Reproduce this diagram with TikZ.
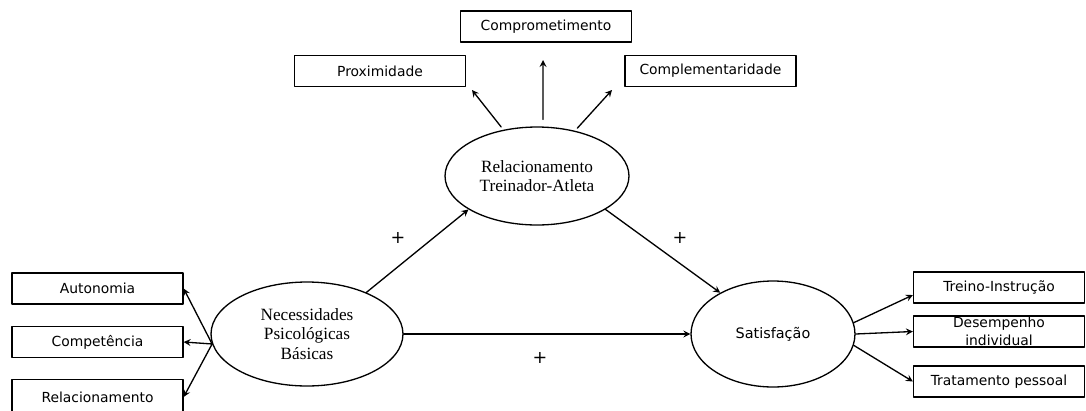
\documentclass[tikz,border=0pt]{standalone}
\usepackage{fontspec}
\setmainfont{Liberation Serif}
\setsansfont{DejaVu Sans}
\usetikzlibrary{shapes.geometric}
\begin{document}
\begin{tikzpicture}[x=0.02cm,y=-0.02cm,line join=round,line cap=round,>=stealth,line width=0.75pt]
	%%%%%%%%%STYLES
	\tikzset{hop/.style={draw,rectangle,minimum width=3.42cm,minimum height=0.62cm,inner sep=0pt,align=center,font=\sffamily\fontsize{7.9}{10.6}\selectfont}}
	\tikzset{elip/.style={draw,ellipse,inner sep=0pt,align=center,font=\fontsize{9.8}{11.2}\selectfont}}
	\useasboundingbox(0,0)rectangle(1086,410);
	\clip(0,0)rectangle(1086,410);
	%%%%%%%%%Elip
	\node[elip,minimum width=3.68cm,minimum height=1.96cm](rel) at (537,176){Relacionamento\\Treinador-Atleta};
	\node[elip,minimum width=3.84cm,minimum height=2.08cm](nec) at (307,334){Necessidades\\Psicológicas\\Básicas};
	\node[elip,minimum width=3.28cm,minimum height=2.12cm,font=\sffamily\fontsize{8.2}{10}\selectfont](sat) at (773,334){Satisfação};
	%%%%%%%%%Hop
	\node[hop](compr) at (546,26.5){Comprometimento};
	\node[hop](prox) at (380,71){Proximidade};
	\node[hop](compl) at (710.5,71){Complementaridade};
	\node[hop](auto) at (97.5,288.5){Autonomia};
	\node[hop](compt) at (97.5,342){Competência};
	\node[hop,minimum height=0.7cm](relac) at (97.5,397){Relacionamento};
	\node[hop](treino) at (999,287.5){Treino-Instrução};
	\node[hop](desemp) at (999,331.5){Desempenho\\individual};
	\node[hop](trat) at (999,381.5){Tratamento pessoal};
	%%%%%%%%%Mui ten
	\path(472,90)coordinate(pa)(543,60)coordinate(pb)(612,90)coordinate(pc);
	\draw[->,shorten <=2pt](rel.126)--(pa);
	\draw[->,shorten <=4pt](rel.83)--(pb);
	\draw[->,shorten <=2pt](rel.50)--(pc);
	\draw[->](nec.35)--(rel.206);
	\draw[->](rel.-26)--(sat.142);
	\draw[->](nec.east)--(sat.west);
	\foreach \b in {auto,compt,relac}
	\draw[->](nec.186)--(\b.east);
	\draw[->](sat.8)--(treino.185);
	\draw[->](sat.east)--(desemp.west);
	\draw[->](sat.-8)--(trat.west);
	%%%%%%%%%Dau
	\path[font=\sffamily\fontsize{10}{12}\selectfont](398,238)node(pl1){+}(680,238)node(pl2){+}(540,358)node(pl3){+};
\end{tikzpicture}
\end{document}
